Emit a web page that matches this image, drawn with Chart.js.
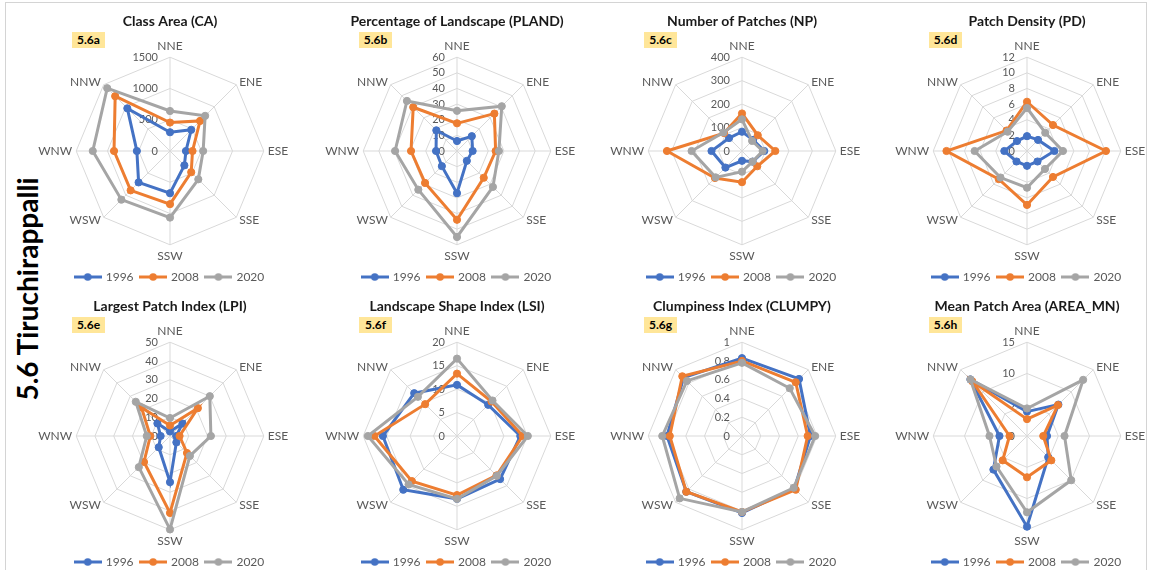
<!DOCTYPE html>
<html>
<head>
<meta charset="utf-8">
<script src="https://cdn.jsdelivr.net/npm/chart.js@4.4.1/dist/chart.umd.min.js"></script>
<style>
  html, body { margin: 0; padding: 0; background: #ffffff; overflow: hidden; }
  body { width: 1150px; height: 570px; position: relative; font-family: Lato, "Open Sans", sans-serif; }
  .frame { position: absolute; left: 5px; top: 2px; width: 1142px; height: 580px; border: 1px solid #d4d4d4; box-sizing: border-box; }
  .side-title { position: absolute; left: -123px; top: 272px; width: 300px; height: 34px; line-height: 34px;
    text-align: center; font-weight: bold; font-size: 28px; color: #000; transform: rotate(-90deg); white-space: nowrap; }
  canvas { position: absolute; }
  .tag { position: absolute; width: 33px; height: 16px; line-height: 16px; background: #ffe699;
    font-weight: bold; font-size: 12px; color: #000; text-align: center; }
</style>
</head>
<body>
<div class="frame"></div>
<div class="side-title">5.6 Tiruchirappalli</div>
<div id="panels"></div>
<script>
// Wind-direction sectors around the city centre
const directions = ['NNE', 'ENE', 'ESE', 'SSE', 'SSW', 'WSW', 'WNW', 'NNW'];
const years = ['1996', '2008', '2020'];
const seriesColors = ['#4472C4', '#ED7D31', '#A5A5A5'];

// Class Area (CA)
const caTicks = ['0', '500', '1000', '1500'];
const ca1996 = [300, 480, 255, 325, 675, 710, 530, 965];
const ca2008 = [455, 680, 360, 480, 850, 890, 895, 1240];
const ca2020 = [640, 795, 530, 640, 1065, 1100, 1235, 1420];

// Percentage of Landscape (PLAND)
const plandTicks = ['0', '10', '20', '30', '40', '50', '60'];
const pland1996 = [6.4, 13.4, 10, 8.9, 27, 13.7, 13.4, 18.7];
const pland2008 = [17.7, 33.8, 24.7, 24.2, 44, 28.9, 29.4, 39.6];
const pland2020 = [25.7, 40.5, 26.8, 32.5, 55, 35, 39.6, 45.3];

// Number of Patches (NP)
const npTicks = ['0', '100', '200', '300', '400'];
const np1996 = [82, 67, 95, 64, 42, 100, 130, 78];
const np2008 = [160, 95, 142, 92, 133, 163, 320, 108];
const np2020 = [135, 61, 88, 64, 88, 159, 215, 112];

// Patch Density (PD)
const pdTicks = ['0', '2', '4', '6', '8', '10', '12'];
const pd1996 = [1.9, 2.0, 3.5, 1.9, 1.9, 1.9, 2.9, 1.8];
const pd2008 = [6.3, 4.7, 10.1, 4.7, 6.9, 5.1, 10.3, 3.7];
const pd2020 = [5.5, 3.3, 4.6, 3.25, 4.7, 4.8, 6.7, 3.5];

// Largest Patch Index (LPI)
const lpiTicks = ['0', '10', '20', '30', '40', '50'];
const lpi1996 = [2.4, 9.4, 3.3, 4.8, 24.6, 8.5, 5, 9.5];
const lpi2008 = [5.6, 21, 5.1, 12.8, 41, 19.6, 10.5, 21.5];
const lpi2020 = [9.6, 30, 21.8, 15, 49.8, 23.5, 12.4, 25.8];

// Landscape Shape Index (LSI)
const lsiTicks = ['0', '5', '10', '15', '20'];
const lsi1996 = [10.9, 9.4, 13.5, 13, 13.4, 16.2, 15.8, 12.9];
const lsi2008 = [13.3, 10.4, 14, 11.9, 12.6, 13.6, 17.6, 9.6];
const lsi2020 = [16.5, 10.7, 15.1, 12, 13.4, 14.6, 19, 11.8];

// Clumpiness Index (CLUMPY)
const clumpyTicks = ['0', '0.2', '0.4', '0.6', '0.8', '1'];
const clumpy1996 = [0.83, 0.86, 0.73, 0.79, 0.82, 0.84, 0.80, 0.88];
const clumpy2008 = [0.80, 0.81, 0.70, 0.81, 0.81, 0.84, 0.77, 0.90];
const clumpy2020 = [0.78, 0.72, 0.78, 0.78, 0.81, 0.94, 0.85, 0.83];

// Mean Patch Area (AREA_MN)
const areaTicks = ['0', '5', '10', '15'];
const area1996 = [3.9, 7.1, 3.2, 4.8, 14.5, 7.6, 4.4, 12.8];
const area2008 = [2.7, 7.0, 2.6, 5.5, 6.6, 5.5, 2.8, 12.4];
const area2020 = [4.4, 12.7, 6.0, 10.0, 12.2, 6.9, 6.0, 12.8];

const panels = [
  { title: 'Class Area (CA)', tag: '5.6a', ticks: caTicks, series: [ca1996, ca2008, ca2020] },
  { title: 'Percentage of Landscape (PLAND)', tag: '5.6b', ticks: plandTicks, series: [pland1996, pland2008, pland2020] },
  { title: 'Number of Patches (NP)', tag: '5.6c', ticks: npTicks, series: [np1996, np2008, np2020] },
  { title: 'Patch Density (PD)', tag: '5.6d', ticks: pdTicks, series: [pd1996, pd2008, pd2020] },
  { title: 'Largest Patch Index (LPI)', tag: '5.6e', ticks: lpiTicks, series: [lpi1996, lpi2008, lpi2020] },
  { title: 'Landscape Shape Index (LSI)', tag: '5.6f', ticks: lsiTicks, series: [lsi1996, lsi2008, lsi2020] },
  { title: 'Clumpiness Index (CLUMPY)', tag: '5.6g', ticks: clumpyTicks, series: [clumpy1996, clumpy2008, clumpy2020] },
  { title: 'Mean Patch Area (AREA_MN)', tag: '5.6h', ticks: areaTicks, series: [area1996, area2008, area2020] }
];

Chart.defaults.font.family = 'Lato';
Chart.defaults.color = '#595959';

// Line-with-marker swatches for the legend
function makeSwatch(color) {
  const c = document.createElement('canvas');
  c.width = 28; c.height = 10;
  const g = c.getContext('2d');
  g.strokeStyle = color; g.lineWidth = 3;
  g.beginPath(); g.moveTo(0, 5); g.lineTo(28, 5); g.stroke();
  g.fillStyle = color;
  g.beginPath(); g.arc(14, 5, 3.8, 0, Math.PI * 2); g.fill();
  return c;
}
const swatches = seriesColors.map(makeSwatch);

// Value labels sit just left of the vertical axis, under the series lines
const sideTicks = {
  id: 'sideTicks',
  afterLayout(chart) {
    // centre the diagonal direction labels vertically on their anchor point
    const items = chart.scales.r._pointLabelItems || [];
    items.forEach((it, i) => {
      const h = it.bottom - it.top;
      if (i === 1 || i === 7) { it.y += h / 2; it.top += h / 2; it.bottom += h / 2; }
      if (i === 3 || i === 5) { it.y -= h / 2; it.top -= h / 2; it.bottom -= h / 2; }
    });
  },
  beforeDatasetsDraw(chart) {
    const s = chart.scales.r;
    const ctx = chart.ctx;
    ctx.save();
    ctx.font = '11px Lato';
    ctx.fillStyle = '#595959';
    ctx.textAlign = 'right';
    ctx.textBaseline = 'middle';
    s.ticks.forEach(t => {
      const d = s.getDistanceFromCenterForValue(t.value);
      ctx.fillText(t.label, s.xCenter - 12, s.yCenter - d);
    });
    ctx.restore();
  }
};

const centersX = [170, 457, 742, 1027];
const rowTops = [5, 290];
const rowCentersY = [151, 436];
const CW = 310, CH = 288;
const host = document.getElementById('panels');

panels.forEach((p, i) => {
  const col = i % 4, row = Math.floor(i / 4);
  const cx = centersX[col];
  const canvas = document.createElement('canvas');
  canvas.width = CW; canvas.height = CH;
  canvas.style.left = (cx - CW / 2) + 'px';
  canvas.style.top = rowTops[row] + 'px';
  host.appendChild(canvas);

  const tag = document.createElement('div');
  tag.className = 'tag';
  tag.textContent = p.tag;
  tag.style.left = (cx - 98) + 'px';
  tag.style.top = (rowCentersY[row] - 119) + 'px';
  host.appendChild(tag);

  const tickVals = p.ticks.map(Number);
  const step = tickVals[1] - tickVals[0];

  new Chart(canvas, {
    type: 'radar',
    data: {
      labels: directions,
      datasets: years.map((y, k) => ({
        label: y,
        data: p.series[k],
        borderColor: seriesColors[k],
        backgroundColor: seriesColors[k],
        pointBackgroundColor: seriesColors[k],
        pointBorderColor: seriesColors[k],
        borderWidth: 3,
        pointRadius: 3.6,
        pointBorderWidth: 1,
        fill: false,
        tension: 0,
        order: 3 - k
      }))
    },
    options: {
      responsive: false,
      animation: false,
      devicePixelRatio: 1,
      layout: { padding: 0 },
      plugins: {
        title: {
          display: true,
          text: p.title,
          color: '#1a1a1a',
          font: { size: 14, weight: 'bold' },
          padding: { top: 8, bottom: 9 }
        },
        legend: {
          position: 'bottom',
          labels: {
            usePointStyle: true,
            pointStyleWidth: 24,
            padding: 7.5,
            color: '#595959',
            font: { size: 12 },
            generateLabels(chart) {
              const items = Chart.defaults.plugins.legend.labels.generateLabels(chart);
              items.sort((a, b) => a.datasetIndex - b.datasetIndex);
              items.forEach(it => { it.pointStyle = swatches[it.datasetIndex]; });
              return items;
            }
          }
        },
        tooltip: { enabled: false }
      },
      scales: {
        r: {
          min: tickVals[0],
          max: tickVals[tickVals.length - 1],
          beginAtZero: true,
          ticks: { display: false, stepSize: step, callback: (v, idx) => p.ticks[idx] },
          grid: { color: '#d9d9d9', lineWidth: 1 },
          angleLines: { color: '#d9d9d9', lineWidth: 1 },
          pointLabels: { color: '#595959', font: { size: 12 }, padding: 4 }
        }
      }
    },
    plugins: [sideTicks]
  });
});
</script>
</body>
</html>
